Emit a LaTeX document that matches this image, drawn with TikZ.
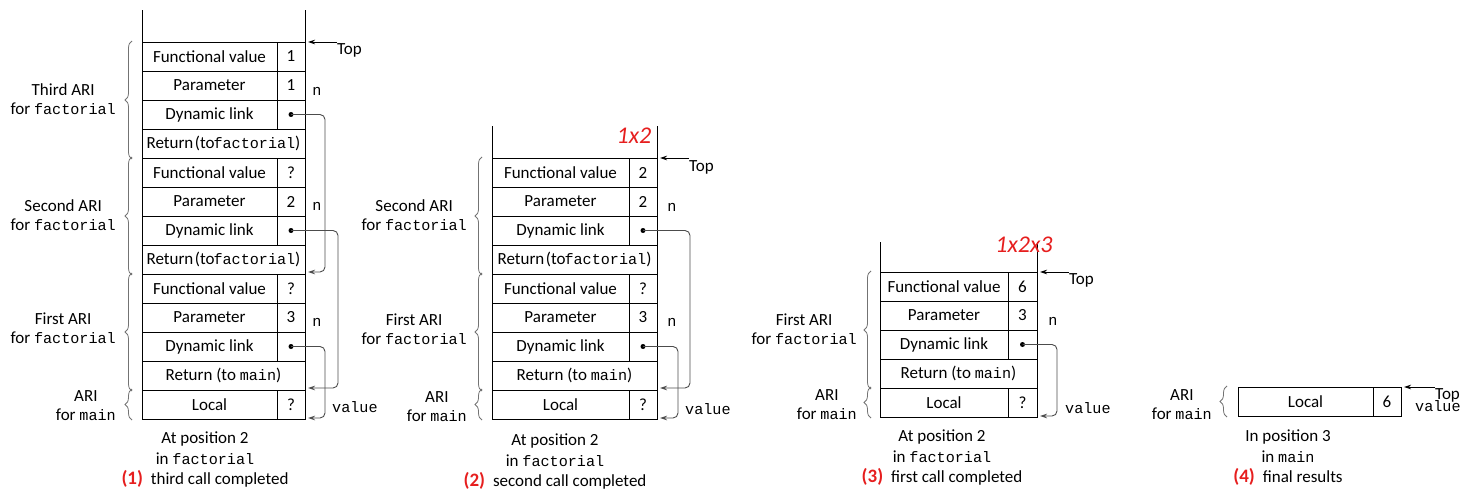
\documentclass[tikz,border=0pt]{standalone}
\usepackage{fontspec}
\setmainfont{Carlito}
\setmonofont{Liberation Mono}[Scale=0.89]
\usetikzlibrary{decorations.pathreplacing,arrows.meta,calc}
\definecolor{numred}{RGB}{230,30,30}
\newcommand\lblfont{\fontsize{17}{19}\selectfont}
\newcommand\capfont{\fontsize{17}{20.5}\selectfont}
\newcommand\tworow[7]{%
  \node[cell,minimum width=#3pt-#2pt] (#1l) at (#2,#5) {#6};
  \node[cell,minimum width=#4pt-#3pt] (#1v) at (#3,#5) {#7};}
\newcommand\onerow[5]{%
  \node[cell,minimum width=#3pt-#2pt] (#1) at (#2,#4) {#5};}
\newcommand\retfact{Return\kern1.5pt(to\kern-1pt\texttt{factorial})}
\newcommand\capnum[1]{\textcolor{numred}{\fontsize{19}{20.5}\selectfont\textbf{(#1)}}\hspace{8pt}}
\tikzset{
  cell/.style={draw, line width=0.9pt, minimum height=29pt, inner sep=0pt, outer sep=0pt, anchor=north west, font=\lblfont},
  wall/.style={line width=0.9pt},
  lab/.style={align=center, font=\lblfont, inner sep=0pt},
  capt/.style={align=center, font=\capfont, inner sep=0pt},
  mono/.style={font=\lblfont\ttfamily, inner sep=0pt},
  brc/.style={decorate, decoration={brace, amplitude=7pt}, draw=black!55, line width=0.8pt},
  link/.style={draw=black!70, line width=0.9pt, rounded corners=5pt, -{Stealth[length=7pt,width=4.5pt]}},
  toparr/.style={line width=0.8pt, -{Stealth[length=7pt,width=4.5pt]}},
  linkdot/.style={circle, fill, inner sep=0pt, minimum size=5pt},
  hand/.style={text=numred, font=\fontsize{24}{24}\selectfont\itshape, inner sep=0pt}
}
\begin{document}
\begin{tikzpicture}[x=1pt,y=-1pt]
\useasboundingbox (0,0) rectangle (1472,492);
% ===================== Panel 1 =====================
\tworow{afv3}{142}{277}{305}{42}{Functional value}{1}
\tworow{apa3}{142}{277}{305}{71}{Parameter}{1}
\tworow{adl3}{142}{277}{305}{100}{Dynamic link}{}
\onerow{aret3}{142}{305}{129}{\retfact}
\tworow{afv2}{142}{277}{305}{158}{Functional value}{?}
\tworow{apa2}{142}{277}{305}{187}{Parameter}{2}
\tworow{adl2}{142}{277}{305}{216}{Dynamic link}{}
\onerow{aret2}{142}{305}{245}{\retfact}
\tworow{afv1}{142}{277}{305}{274}{Functional value}{?}
\tworow{apa1}{142}{277}{305}{303}{Parameter}{3}
\tworow{adl1}{142}{277}{305}{332}{Dynamic link}{}
\onerow{aret1}{142}{305}{361}{Return (to \texttt{main})}
\tworow{aloc}{142}{277}{305}{390}{Local}{?}
\draw[wall] (afv3l.north west) -- ++(0,-32);
\draw[wall] (afv3v.north east) -- ++(0,-32);
\node[linkdot] (ad3) at (adl3v.center) {};
\node[linkdot] (ad2) at (adl2v.center) {};
\node[linkdot] (ad1) at (adl1v.center) {};
\draw[link] (ad3.center) -| ([xshift=20pt,yshift=2pt]aret2.south east) -- ([xshift=3pt,yshift=2pt]aret2.south east);
\draw[link] (ad2.center) -| ([xshift=33pt,yshift=2pt]aret1.south east) -- ([xshift=3pt,yshift=2pt]aret1.south east);
\draw[link] (ad1.center) -| ([xshift=20pt,yshift=1pt]alocv.south east) -- ([xshift=3pt,yshift=1pt]alocv.south east);
\node[lab, anchor=west] (atop) at (337,50) {Top};
\draw[toparr] (atop.west |- afv3v.north east) -- ([xshift=3pt]afv3v.north east);
\node[mono] (an3) at (317,91) {n};
\node[mono] (an2) at (317,206) {n};
\node[mono] (an1) at (317,322) {n};
\node[mono, anchor=west] (aval) at (332,407) {value};
\draw[brc] ([xshift=-10pt,yshift=-1pt]aret3.south west) -- ([xshift=-10pt,yshift=1pt]afv3l.north west);
\draw[brc] ([xshift=-10pt,yshift=-1pt]aret2.south west) -- ([xshift=-10pt,yshift=1pt]afv2l.north west);
\draw[brc] ([xshift=-10pt,yshift=-1pt]aret1.south west) -- ([xshift=-10pt,yshift=1pt]afv1l.north west);
\draw[brc] ([xshift=-10pt,yshift=-1pt]alocl.south west) -- ([xshift=-10pt,yshift=1pt]alocl.north west);
\node[lab, anchor=east] (alab3) at (116,99) {Third ARI\\for \texttt{factorial}};
\node[lab, anchor=east] (alab2) at (116,215) {Second ARI\\for \texttt{factorial}};
\node[lab, anchor=east] (alab1) at (116,328) {First ARI\\for \texttt{factorial}};
\node[lab, anchor=east] (alabm) at (116,406) {ARI\\for \texttt{main}};
\node[capt] (acap) at (205,460) {At position 2\\in \texttt{factorial}\\\capnum{1}third call completed};
% ===================== Panel 2 =====================
\tworow{bfv2}{492}{629}{657}{158}{Functional value}{2}
\tworow{bpa2}{492}{629}{657}{187}{Parameter}{2}
\tworow{bdl2}{492}{629}{657}{216}{Dynamic link}{}
\onerow{bret2}{492}{657}{245}{\retfact}
\tworow{bfv1}{492}{629}{657}{274}{Functional value}{?}
\tworow{bpa1}{492}{629}{657}{303}{Parameter}{3}
\tworow{bdl1}{492}{629}{657}{332}{Dynamic link}{}
\onerow{bret1}{492}{657}{361}{Return (to \texttt{main})}
\tworow{bloc}{492}{629}{657}{390}{Local}{?}
\draw[wall] (bfv2l.north west) -- ++(0,-32);
\draw[wall] (bfv2v.north east) -- ++(0,-32);
\node[linkdot] (bd2) at (bdl2v.center) {};
\node[linkdot] (bd1) at (bdl1v.center) {};
\draw[link] (bd2.center) -| ([xshift=33pt,yshift=2pt]bret1.south east) -- ([xshift=3pt,yshift=2pt]bret1.south east);
\draw[link] (bd1.center) -| ([xshift=21pt,yshift=1pt]blocv.south east) -- ([xshift=3pt,yshift=1pt]blocv.south east);
\node[lab, anchor=west] (btop) at (689,167) {Top};
\draw[toparr] (btop.west |- bfv2v.north east) -- ([xshift=3pt]bfv2v.north east);
\node[mono] (bn2) at (672,207) {n};
\node[mono] (bn1) at (672,322) {n};
\node[mono, anchor=west] (bval) at (685,409) {value};
\draw[brc] ([xshift=-10pt,yshift=-1pt]bret2.south west) -- ([xshift=-10pt,yshift=1pt]bfv2l.north west);
\draw[brc] ([xshift=-10pt,yshift=-1pt]bret1.south west) -- ([xshift=-10pt,yshift=1pt]bfv1l.north west);
\draw[brc] ([xshift=-10pt,yshift=-1pt]blocl.south west) -- ([xshift=-10pt,yshift=1pt]blocl.north west);
\node[lab, anchor=east] (blab2) at (467,215) {Second ARI\\for \texttt{factorial}};
\node[lab, anchor=east] (blab1) at (467,329) {First ARI\\for \texttt{factorial}};
\node[lab, anchor=east] (blabm) at (467,407) {ARI\\for \texttt{main}};
\node[hand] (bhand) at (634,136) {1x2};
\node[capt] (bcap) at (555,462) {At position 2\\in \texttt{factorial}\\\capnum{2}second call completed};
% ===================== Panel 3 =====================
\tworow{cfv1}{880}{1008}{1037}{272}{Functional value}{6}
\tworow{cpa1}{880}{1008}{1037}{301}{Parameter}{3}
\tworow{cdl1}{880}{1008}{1037}{330}{Dynamic link}{}
\onerow{cret1}{880}{1037}{359}{Return (to \texttt{main})}
\tworow{cloc}{880}{1008}{1037}{388}{Local}{?}
\draw[wall] (cfv1l.north west) -- ++(0,-30);
\draw[wall] (cfv1v.north east) -- ++(0,-30);
\node[linkdot] (cd1) at (cdl1v.center) {};
\draw[link] (cd1.center) -| ([xshift=20pt,yshift=1pt]clocv.south east) -- ([xshift=3pt,yshift=1pt]clocv.south east);
\node[lab, anchor=west] (ctop) at (1069,280) {Top};
\draw[toparr] (ctop.west |- cfv1v.north east) -- ([xshift=3pt]cfv1v.north east);
\node[mono] (cn1) at (1053,321) {n};
\node[mono, anchor=west] (cval) at (1065,408) {value};
\draw[brc] ([xshift=-9pt,yshift=-1pt]cret1.south west) -- ([xshift=-9pt,yshift=1pt]cfv1l.north west);
\draw[brc] ([xshift=-9pt,yshift=-1pt]clocl.south west) -- ([xshift=-9pt,yshift=1pt]clocl.north west);
\node[lab, anchor=east] (clab1) at (857,329) {First ARI\\for \texttt{factorial}};
\node[lab, anchor=east] (clabm) at (857,405) {ARI\\for \texttt{main}};
\node[hand] (chand) at (1024,245) {1x2x3};
\node[capt] (ccap) at (942,458) {At position 2\\in \texttt{factorial}\\\capnum{3}first call completed};
% ===================== Panel 4 =====================
\tworow{dloc}{1238}{1373}{1401}{387}{Local}{6}
\node[lab, anchor=west] (dtop) at (1435,395) {Top};
\draw[toparr] (dtop.west |- dlocv.north east) -- ([xshift=3pt]dlocv.north east);
\node[mono, anchor=west] (dval) at (1415,406) {value};
\draw[brc] ([xshift=-11pt,yshift=-1pt]dlocl.south west) -- ([xshift=-11pt,yshift=1pt]dlocl.north west);
\node[lab, anchor=east] (dlabm) at (1212,405) {ARI\\for \texttt{main}};
\node[capt] (dcap) at (1288,458) {In position 3\\in \texttt{main}\\\capnum{4}final results};
\end{tikzpicture}
\end{document}
